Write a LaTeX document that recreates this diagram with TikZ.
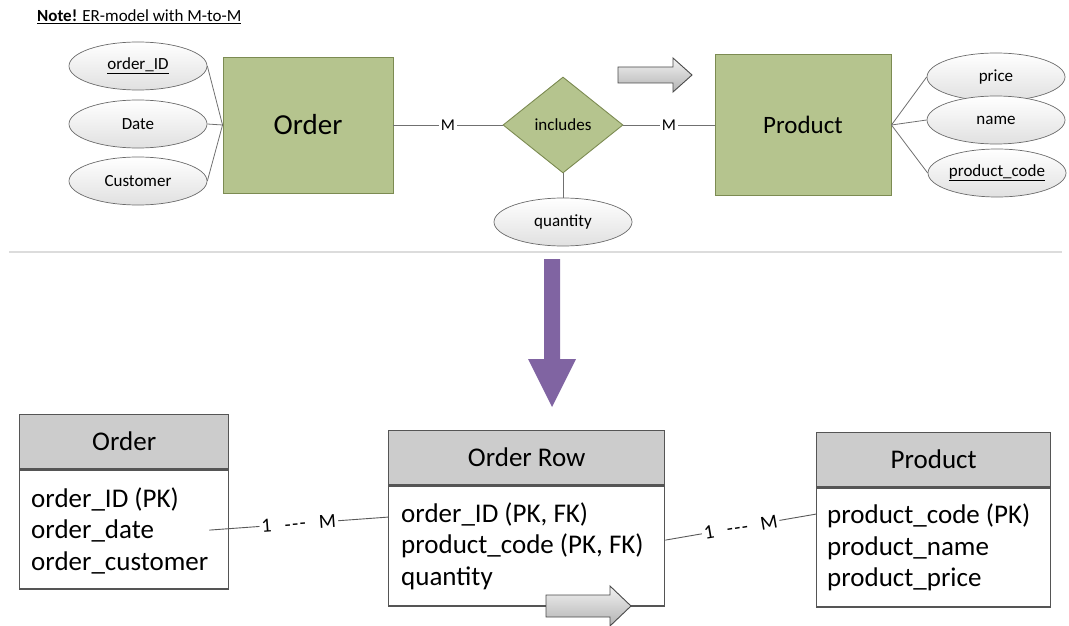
\documentclass[tikz,border=0pt]{standalone}
\usepackage{fontspec}
\setmainfont{Carlito}
\usetikzlibrary{shapes.geometric,calc}

\definecolor{entfill}{HTML}{B5C48E}
\definecolor{entdraw}{HTML}{7C8B52}
\definecolor{attdraw}{HTML}{6B6B6B}
\definecolor{linkgray}{HTML}{707070}
\definecolor{hdrfill}{HTML}{CCCCCC}
\definecolor{tabdraw}{HTML}{555555}
\definecolor{flowpurple}{HTML}{8064A2}
\definecolor{sepgray}{HTML}{DCDCDC}
\definecolor{arrdraw}{HTML}{4A4A4A}

\tikzset{
  entity/.style={draw=entdraw, fill=entfill, line width=0.9pt, inner sep=0pt},
  relation/.style={diamond, draw=entdraw, fill=entfill, line width=0.9pt,
    minimum width=120pt, minimum height=96pt, inner sep=0pt,
    font=\fontsize{17}{20}\selectfont},
  attribute/.style={ellipse, draw=attdraw, top color=white, bottom color=black!12,
    line width=0.7pt, minimum width=138pt, minimum height=48pt, inner sep=0pt,
    font=\fontsize{17}{20}\selectfont},
  erlink/.style={draw=linkgray, line width=0.8pt},
  card/.style={font=\fontsize{16.5}{19}\selectfont, fill=white, inner sep=1.5pt},
  tablehead/.style={draw=tabdraw, fill=hdrfill, line width=1.4pt, minimum height=54pt,
    inner sep=0pt, font=\fontsize{27}{32}\selectfont},
  tablebody/.style={draw=tabdraw, fill=white, line width=1.4pt, inner sep=0pt},
  rows/.style={anchor=west, align=left, inner sep=0pt, font=\fontsize{27}{31.5}\selectfont},
  fklink/.style={draw=black!65, line width=0.9pt},
  fklabel/.style={font=\fontsize{20}{24}\selectfont, fill=white, inner sep=2pt, sloped},
  grayarrow/.style={draw=arrdraw, line width=0.9pt, top color=black!5, bottom color=black!30},
}

\newcommand{\cardlabel}{1\hspace{13pt}-\kern1.5pt-\kern1.5pt-\hspace{13pt}M}

\begin{document}
\begin{tikzpicture}[x=1pt,y=-1pt]
\useasboundingbox (0,0) rectangle (1069,626);

% heading
\node[anchor=west, inner sep=0pt, font=\fontsize{17}{20}\selectfont] (note) at (37,17)
  {\underline{\textbf{Note!} ER-model with M-to-M}};

% ---------------- ER model ----------------
\node[entity, minimum width=170pt, minimum height=136pt] (order) at (308,125)
  {\fontsize{29}{34}\selectfont Order};
\node[entity, minimum width=176pt, minimum height=141pt] (product) at (803,125)
  {\fontsize{25}{30}\selectfont Product};
\node[relation] (incl) at (563,125) {includes};

\node[attribute] (oid)   at (138,66)  {\underline{order\_ID}};
\node[attribute] (odate) at (138,124) {Date};
\node[attribute] (ocust) at (138,181) {Customer};
\node[attribute] (qty)   at (563,222) {quantity};
\node[attribute] (pprice) at (996,77)  {price};
\node[attribute] (pname)  at (996,120) {name};
\node[attribute] (pcode)  at (997,173) {\underline{product\_code}};

\draw[erlink] (oid.east) -- (order.west);
\draw[erlink] (odate.east) -- (order.west);
\draw[erlink] (ocust.east) -- (order.west);
\draw[erlink] (product.east) -- (pprice.west);
\draw[erlink] (product.east) -- (pname.west);
\draw[erlink] (product.east) -- (pcode.west);
\draw[erlink] (order.east) -- node[card] {M} (incl.west);
\draw[erlink] (incl.east) -- node[card] {M} (product.west);
\draw[erlink] (incl.south) -- (qty.north);

% block arrow above the relationship
\draw[grayarrow] (618,67) -- (673,67) -- (673,58) -- (692,75) -- (673,92) -- (673,83) -- (618,83) -- cycle;

% separator
\draw[sepgray, line width=1.2pt] (9,252) -- (1062,252);

% transformation arrow
\fill[flowpurple] (544,259) -- (560,259) -- (560,359) -- (576,359) -- (552,407)
  -- (528,359) -- (544,359) -- cycle;

% ---------------- relational tables ----------------
\node[tablehead, anchor=north west, minimum width=209pt] (ordhead) at (19,414) {Order};
\node[tablebody, anchor=north, minimum width=209pt, minimum height=119pt] (ordbody)
  at (ordhead.south) {};
\node[rows] (ordrows) at ($(ordbody.west)+(12,1)$)
  {order\_ID (PK)\\order\_date\\order\_customer};

\node[tablehead, anchor=north west, minimum width=276pt] (rowhead) at (388,430) {Order Row};
\node[tablebody, anchor=north, minimum width=276pt, minimum height=120pt] (rowbody)
  at (rowhead.south) {};
\node[rows] (rowrows) at ($(rowbody.west)+(13,0)$)
  {order\_ID (PK, FK)\\product\_code (PK, FK)\\quantity};

\node[tablehead, anchor=north west, minimum width=234pt] (prodhead) at (816,432) {Product};
\node[tablebody, anchor=north, minimum width=234pt, minimum height=119pt] (prodbody)
  at (prodhead.south) {};
\node[rows] (prodrows) at ($(prodbody.west)+(11,0)$)
  {product\_code (PK)\\product\_name\\product\_price};

% foreign key links
\coordinate (fk1a) at ($(ordbody.east)+(-20,0.5)$);
\coordinate (fk1b) at ($(rowbody.west)+(0,-29)$);
\coordinate (fk2a) at ($(rowbody.east)+(0,-6)$);
\coordinate (fk2b) at ($(prodbody.west)+(0,-33.5)$);
\draw[fklink] (fk1a) -- node[fklabel] {\cardlabel} (fk1b);
\draw[fklink] (fk2a) -- node[fklabel] {\cardlabel} (fk2b);

% block arrow over the Order Row table
\draw[grayarrow] (546,595) -- (610,595) -- (610,586) -- (631,606) -- (610,626) -- (610,617) -- (546,617) -- cycle;
\end{tikzpicture}
\end{document}
